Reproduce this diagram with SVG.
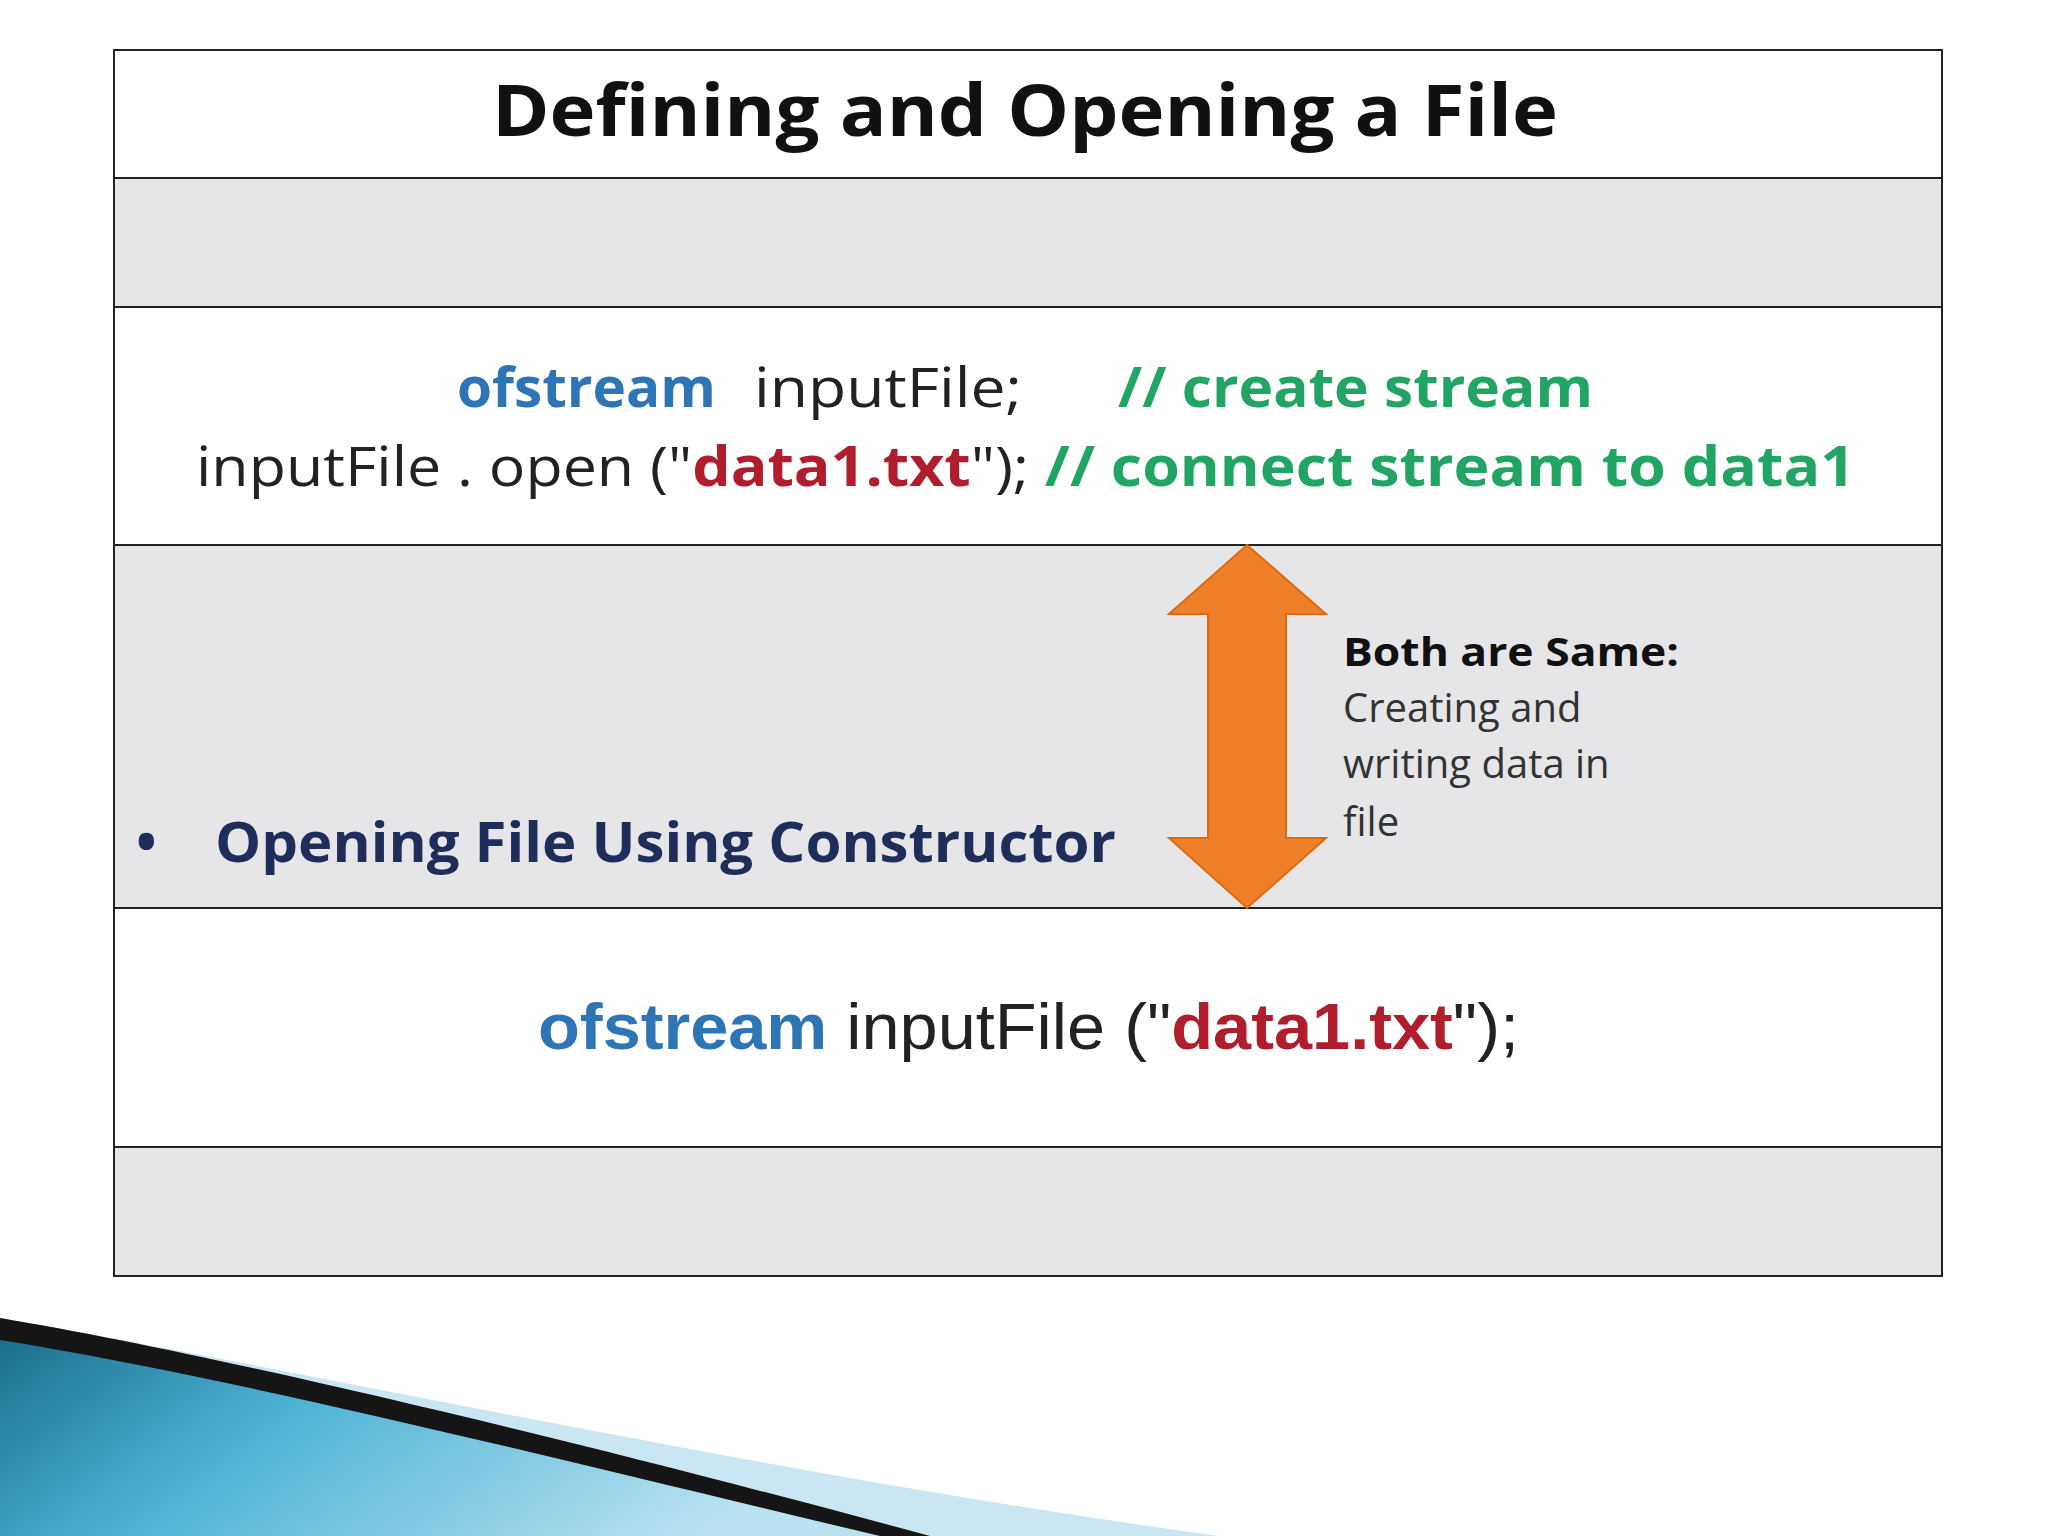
<svg xmlns="http://www.w3.org/2000/svg" width="2048" height="1536" viewBox="0 0 2048 1536">
<defs>
<style>
.g{fill:#e6e6e8}.w{fill:#ffffff}
.s{font-family:"Open Sans","Noto Sans",sans-serif}
.blue{fill:#2e75b6;font-weight:bold}.grn{fill:#22a564;font-weight:bold}.red{fill:#b01e2e;font-weight:bold}.blk{fill:#222}
</style>
<linearGradient id="sw" x1="0" y1="0" x2="1" y2="0.3"><stop offset="0" stop-color="#1a6f8c"/><stop offset="0.4" stop-color="#4fb3d6"/><stop offset="1" stop-color="#b8e2f0"/></linearGradient>
</defs>
<rect width="2048" height="1536" fill="#fff"/>
<g id="table" stroke="#222" stroke-width="2">
<rect class="w" x="114" y="50" width="1828" height="128"/>
<rect class="g" x="114" y="178" width="1828" height="129"/>
<rect class="w" x="114" y="307" width="1828" height="238"/>
<rect class="g" x="114" y="545" width="1828" height="363"/>
<rect class="w" x="114" y="908" width="1828" height="239"/>
<rect class="g" x="114" y="1147" width="1828" height="129"/>
</g>
<text class="s" x="492" y="136" font-size="72" font-weight="bold" fill="#111" textLength="1066" lengthAdjust="spacingAndGlyphs">Defining and Opening a File</text>
<g id="code1" class="s" font-size="55">
<text class="blue" x="457" y="407" textLength="259" lengthAdjust="spacingAndGlyphs">ofstream</text>
<text class="blk" x="754" y="407" textLength="268" lengthAdjust="spacingAndGlyphs">inputFile;</text>
<text class="grn" x="1118" y="407" textLength="475" lengthAdjust="spacingAndGlyphs">// create stream</text>
<text x="196" y="486" textLength="1659" lengthAdjust="spacingAndGlyphs"><tspan class="blk">inputFile . open ("</tspan><tspan class="red">data1.txt</tspan><tspan class="blk">");  </tspan><tspan class="grn">// connect stream to data1</tspan></text>
</g>
<g id="arrow"><polygon points="1247,545 1326,614 1286,614 1286,838 1326,838 1247,908 1169,838 1208,838 1208,614 1169,614" fill="#f07f2a" stroke="#e06a10" stroke-width="2"/></g>
<g id="note" class="s" font-size="40" fill="#333">
<text x="1343" y="666" font-weight="bold" fill="#111" textLength="336" lengthAdjust="spacingAndGlyphs">Both are Same:</text>
<text x="1343" y="722">Creating and</text>
<text x="1343" y="778">writing data in</text>
<text x="1343" y="836">file</text>
</g>
<g id="bullet" class="s" font-size="55" font-weight="bold" fill="#1f2d5a">
<text x="136" y="862">•</text>
<text x="215" y="862" textLength="901" lengthAdjust="spacingAndGlyphs">Opening File Using Constructor</text>
</g>
<text x="538" y="1049" font-family="Liberation Sans,Arial,sans-serif" font-size="64" textLength="981" lengthAdjust="spacingAndGlyphs"><tspan fill="#2e75b6" font-weight="bold">ofstream</tspan><tspan fill="#222"> inputFile ("</tspan><tspan fill="#b01e2e" font-weight="bold">data1.txt</tspan><tspan fill="#222">");</tspan></text>
<g id="swoosh">
<path d="M0,1318 C300,1370 800,1480 1220,1536 L0,1536 Z" fill="#c9e6f2"/>
<path d="M0,1318 C250,1360 650,1460 930,1536 L0,1536 Z" fill="#151515"/>
<path d="M0,1340 C250,1380 600,1470 880,1536 L0,1536 Z" fill="url(#sw)"/>
</g>
</svg>
